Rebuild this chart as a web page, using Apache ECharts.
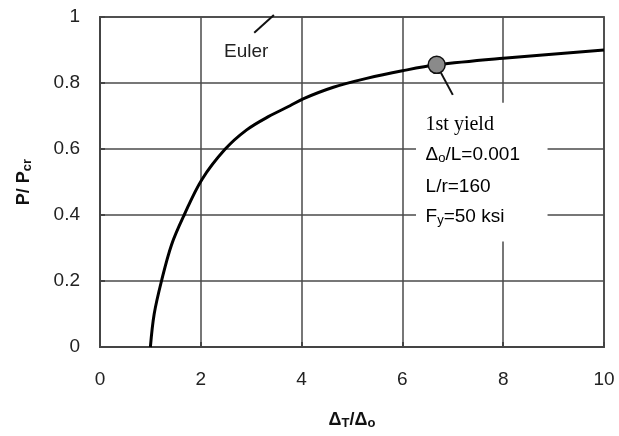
<!DOCTYPE html>
<html>
<head>
<meta charset="utf-8">
<script src="https://cdn.jsdelivr.net/npm/echarts@6/dist/echarts.min.js"></script>
<style>html,body{margin:0;padding:0;background:#fff}#c{width:619px;height:436px}</style>
</head>
<body>
<div id="c"></div>
<script>
// Curve data: [ΔT/Δo, P/Pcr]
const curveX = [1, 1.075, 1.22, 1.42, 1.67, 2.02, 2.48, 2.91, 3.34, 3.77, 4.03, 4.63, 5.29, 6, 6.68, 8, 10];
const curveY = [0, 0.1, 0.2, 0.31, 0.4, 0.507, 0.599, 0.658, 0.698, 0.731, 0.752, 0.787, 0.814, 0.837, 0.855, 0.875, 0.9];
const yieldPoint = [6.68, 0.855];
const xTicks = [0, 2, 4, 6, 8, 10];
const yTicks = [0, 0.2, 0.4, 0.6, 0.8, 1];
const eulerLeader = [[3.45, 1.006], [3.06, 0.952]];
const yieldLeader = [[6.68, 0.855], [7.0, 0.764]];

const FONT = '"Liberation Sans", Arial, sans-serif';
const SERIF = '"Liberation Serif", "Times New Roman", serif';
const chart = echarts.init(document.getElementById('c'), null, {renderer: 'canvas'});

const curve = curveX.map((x, i) => [x, curveY[i]]);

chart.setOption({
  animation: false,
  backgroundColor: '#fff',
  grid: {left: 100, right: 15, top: 17, bottom: 89, show: true, borderColor: '#666', borderWidth: 2, backgroundColor: 'transparent'},
  xAxis: {
    type: 'value', min: xTicks[0], max: xTicks[xTicks.length - 1], interval: 2,
    axisLine: {show: true, lineStyle: {color: '#444', width: 2}},
    axisTick: {show: true, inside: true, length: 5, lineStyle: {color: '#444', width: 2}},
    splitLine: {show: true, lineStyle: {color: '#4a4a4a', width: 1.5}},
    axisLabel: {fontFamily: FONT, fontSize: 19, color: '#222', margin: 23, formatter: v => String(v)},
    name: '{a|Δ}{s|T}{a|/Δ}{s|o}', nameLocation: 'middle', nameGap: 64,
    nameTextStyle: {rich: {
      a: {fontFamily: FONT, fontWeight: 'bold', fontSize: 18, color: '#111'},
      s: {fontFamily: FONT, fontWeight: 'bold', fontSize: 13, color: '#111', padding: [6, 0, 0, 0]}
    }}
  },
  yAxis: {
    type: 'value', min: yTicks[0], max: yTicks[yTicks.length - 1], interval: 0.2,
    axisLine: {show: true, lineStyle: {color: '#444', width: 2}},
    axisTick: {show: true, inside: true, length: 5, lineStyle: {color: '#444', width: 2}},
    splitLine: {show: true, lineStyle: {color: '#4a4a4a', width: 1.5}},
    axisLabel: {fontFamily: FONT, fontSize: 19, color: '#222', margin: 20, formatter: v => String(Math.round(v * 10) / 10)},
    name: '{a|P/ P}{s|cr}', nameLocation: 'middle', nameRotate: 90, nameGap: 66,
    nameTextStyle: {rich: {
      a: {fontFamily: FONT, fontWeight: 'bold', fontSize: 18, color: '#111'},
      s: {fontFamily: FONT, fontWeight: 'bold', fontSize: 13, color: '#111', padding: [6, 0, 0, 0]}
    }}
  },
  series: [
    {type: 'line', data: curve, smooth: 0.35, showSymbol: false, lineStyle: {color: '#000', width: 3}, z: 5},
    {type: 'line', data: eulerLeader, showSymbol: false, clip: false, lineStyle: {color: '#111', width: 2}, z: 4},
    {type: 'line', data: yieldLeader, showSymbol: false, lineStyle: {color: '#111', width: 2}, z: 4},
    {type: 'scatter', data: [yieldPoint], symbolSize: 17, itemStyle: {color: '#8a8a8a', borderColor: '#111', borderWidth: 1.5, opacity: 1}, z: 6}
  ]
});

// annotation text, placed in data coordinates
const p = (x, y) => chart.convertToPixel({gridIndex: 0}, [x, y]);
const boxTL = p(6.27, 0.74), boxBR = p(8.88, 0.32);
const euler = p(2.9, 0.895);
const t1 = p(6.46, 0.672);
const rich = {
  n: {fontFamily: FONT, fontSize: 19, color: '#222'},
  s: {fontFamily: FONT, fontSize: 13, color: '#222', padding: [7, 0, 0, 0]},
  r: {fontFamily: SERIF, fontSize: 20, color: '#222'}
};
chart.setOption({
  graphic: [
    {type: 'rect', shape: {x: boxTL[0], y: boxTL[1], width: boxBR[0] - boxTL[0], height: boxBR[1] - boxTL[1]}, style: {fill: '#fff'}, z: 3, silent: true},
    {type: 'text', x: euler[0], y: euler[1], style: {text: 'Euler', font: '19px ' + FONT, fill: '#222', align: 'center', verticalAlign: 'middle'}, z: 10},
    {type: 'text', x: t1[0], y: t1[1], style: {text: '{r|1st yield}', rich: rich, verticalAlign: 'middle'}, z: 10},
    {type: 'text', x: t1[0], y: t1[1] + 30, style: {text: '{n|Δ}{s|o}{n|/L=0.001}', rich: rich, verticalAlign: 'middle'}, z: 10},
    {type: 'text', x: t1[0], y: t1[1] + 62, style: {text: '{n|L/r=160}', rich: rich, verticalAlign: 'middle'}, z: 10},
    {type: 'text', x: t1[0], y: t1[1] + 92, style: {text: '{n|F}{s|y}{n|=50 ksi}', rich: rich, verticalAlign: 'middle'}, z: 10}
  ]
});
</script>
</body>
</html>
